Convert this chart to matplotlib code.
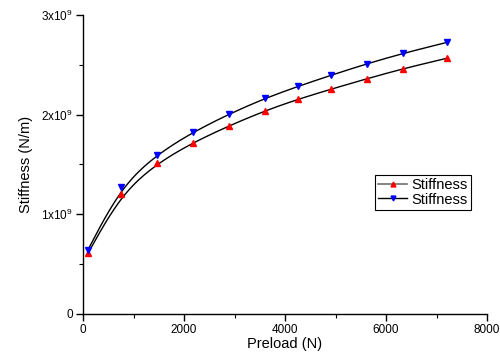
import numpy as np
import matplotlib
matplotlib.use("Agg")
import matplotlib.pyplot as plt
from matplotlib.ticker import MultipleLocator, FuncFormatter

plt.rcParams["font.family"] = ["Liberation Sans", "DejaVu Sans"]
plt.rcParams["mathtext.fontset"] = "custom"
plt.rcParams["mathtext.rm"] = "Liberation Sans"

# --- data ---
preload = [100, 750, 1460, 2180, 2900, 3610, 4260, 4910, 5620, 6330, 7200]
stiff_red = [0.61, 1.20, 1.51, 1.72, 1.89, 2.04, 2.155, 2.255, 2.36, 2.46, 2.565]   # x1e9
stiff_blue = [0.645, 1.275, 1.60, 1.825, 2.008, 2.165, 2.284, 2.395, 2.51, 2.614, 2.724]  # x1e9
legend_labels = ["Stiffness", "Stiffness"]


def bspline(x, y, n=20):
    """clamped uniform cubic B-spline using the points as control points"""
    px = np.concatenate([[x[0]] * 2, x, [x[-1]] * 2]).astype(float)
    py = np.concatenate([[y[0]] * 2, y, [y[-1]] * 2]).astype(float)
    t = np.linspace(0, 1, n, endpoint=False)
    b0 = (1 - t) ** 3 / 6
    b1 = (3 * t ** 3 - 6 * t ** 2 + 4) / 6
    b2 = (-3 * t ** 3 + 3 * t ** 2 + 3 * t + 1) / 6
    b3 = t ** 3 / 6
    xs, ys = [], []
    for i in range(len(px) - 3):
        xs.extend(b0 * px[i] + b1 * px[i + 1] + b2 * px[i + 2] + b3 * px[i + 3])
        ys.extend(b0 * py[i] + b1 * py[i + 1] + b2 * py[i + 2] + b3 * py[i + 3])
    xs.append(x[-1])
    ys.append(y[-1])
    return np.array(xs), np.array(ys)


fig = plt.figure(figsize=(5.0, 3.56), dpi=100)
ax = fig.add_axes([0.166, 0.118, 0.808, 0.84])

scale = 1e9
for ys, col, mk in ((stiff_red, "red", "^"), (stiff_blue, "blue", "v")):
    sx, sy = bspline(preload, ys)
    ax.plot(sx, sy * scale, color="black", linewidth=1.0, zorder=2)
    ax.plot(preload, np.array(ys) * scale, linestyle="none", marker=mk,
            color=col, markersize=4.5, zorder=3)

# legend handles (line + marker)
h1, = ax.plot([], [], color="#707070", linewidth=1.2, marker="^",
              markerfacecolor="red", markeredgecolor="red", markersize=3.5)
h2, = ax.plot([], [], color="black", linewidth=1.0, marker="v",
              markerfacecolor="blue", markeredgecolor="blue", markersize=3.5)
leg = ax.legend([h1, h2], legend_labels, loc="upper right",
                bbox_to_anchor=(0.96, 0.465), fontsize=10.5, frameon=True,
                fancybox=False, edgecolor="black", framealpha=1,
                handlelength=2.0, handletextpad=0.3, borderpad=0.2,
                labelspacing=0.05, borderaxespad=0)
leg.get_frame().set_linewidth(0.8)

ax.set_xlim(0, 8000)
ax.set_ylim(0, 3e9)
ax.xaxis.set_major_locator(MultipleLocator(2000))
ax.xaxis.set_minor_locator(MultipleLocator(1000))
ax.yaxis.set_major_locator(MultipleLocator(1e9))
ax.yaxis.set_minor_locator(MultipleLocator(0.5e9))


def yfmt(v, pos):
    n = int(round(v / 1e9))
    return "0" if n == 0 else r"%dx10$^{9}$" % n


ax.yaxis.set_major_formatter(FuncFormatter(yfmt))

for side in ("top", "right"):
    ax.spines[side].set_visible(False)
for side in ("left", "bottom"):
    ax.spines[side].set_linewidth(1.0)

ax.tick_params(which="major", direction="out", length=5, width=1.0,
               labelsize=8.5, pad=2)
ax.tick_params(which="minor", direction="out", length=3, width=0.8)

ax.set_xlabel("Preload (N)", fontsize=10.5, labelpad=1)
ax.set_ylabel("Stiffness (N/m)", fontsize=10.5, labelpad=6)

fig.savefig("out.png", dpi=100)
